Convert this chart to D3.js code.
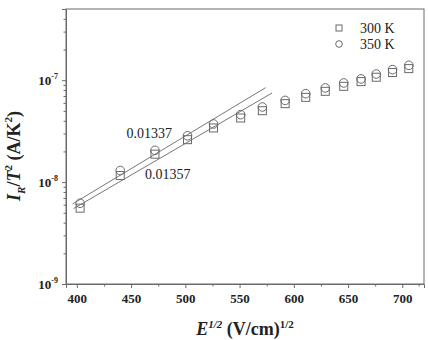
<!DOCTYPE html>
<html>
<head>
<meta charset="utf-8">
<script src="https://cdn.jsdelivr.net/npm/d3@7"></script>
<style>
  body { margin: 0; background: #fff; }
  svg text { font-family: "Liberation Serif", "Times New Roman", serif; fill: #222; }
</style>
</head>
<body>
<div id="chart"></div>
<script>
// Data
const sqrtE = [403, 440, 472, 502, 526, 551, 571, 592, 611, 629, 646, 662, 676, 691, 706];
const series300K = [5.55e-9, 1.16e-8, 1.88e-8, 2.61e-8, 3.40e-8, 4.26e-8, 5.02e-8, 5.89e-8, 6.79e-8, 7.78e-8, 8.71e-8, 9.69e-8, 1.07e-7, 1.19e-7, 1.30e-7];
const series350K = [6.2e-9, 1.30e-8, 2.05e-8, 2.85e-8, 3.72e-8, 4.59e-8, 5.46e-8, 6.34e-8, 7.38e-8, 8.40e-8, 9.40e-8, 1.03e-7, 1.15e-7, 1.27e-7, 1.40e-7];

// Linear fits (endpoints)
const fitX350 = [396, 574];
const fitY350 = [6.1e-9, 8.45e-8];
const fitX300 = [397, 580];
const fitY300 = [5.5e-9, 7.5e-8];
const slopeLabels = ['0.01337', '0.01357'];

const xTicks = [400, 450, 500, 550, 600, 650, 700];
const xMinor = [425, 475, 525, 575, 625, 675, 715];
const yTicks = [1e-9, 1e-8, 1e-7];
const yExp = ['-9', '-8', '-7'];
const legendLabels = ['300 K', '350 K'];

const width = 428, height = 340;
const margin = {top: 9, right: 4, bottom: 56, left: 66};
const innerW = width - margin.left - margin.right;
const innerH = height - margin.top - margin.bottom;
const grey = '#6a6a6a';

const svg = d3.select('#chart').append('svg')
    .attr('width', width)
    .attr('height', height);

const g = svg.append('g')
    .attr('transform', `translate(${margin.left},${margin.top})`);

const x = d3.scaleLinear().domain([390, 720]).range([0, innerW]);
const y = d3.scaleLog().domain([1e-9, 5e-7]).range([innerH, 0]);

// Minor y ticks
const yMinor = [];
[1e-9, 1e-8, 1e-7].forEach(d => {
    for (let k = 2; k <= 9; k++) {
        const v = d * k;
        if (v <= 5e-7) yMinor.push(v);
    }
});

// Axes
const xAxis = g.append('g')
    .attr('transform', `translate(0,${innerH})`)
    .call(d3.axisBottom(x).tickValues(xTicks).tickSize(4).tickPadding(6).tickFormat(d3.format('d')));
g.append('g')
    .attr('transform', `translate(0,${innerH})`)
    .call(d3.axisBottom(x).tickValues(xMinor).tickSize(2.5).tickFormat(''))
    .call(s => s.select('.domain').remove());

xAxis.selectAll('text')
    .style('font-size', '13px')
    .style('font-weight', 'bold')
    .attr('fill', '#222');

const yAxis = g.append('g')
    .call(d3.axisLeft(y).tickValues(yTicks).tickSize(4).tickFormat(''));
g.append('g')
    .call(d3.axisLeft(y).tickValues(yMinor).tickSize(2.5).tickFormat(''))
    .call(s => s.select('.domain').remove());

// Y tick labels with superscripts
const yLab = g.append('g').selectAll('text')
    .data(yTicks)
    .join('text')
    .attr('x', -8)
    .attr('y', d => y(d) + 5)
    .attr('text-anchor', 'end')
    .style('font-size', '13px')
    .style('font-weight', 'bold');
yLab.append('tspan').text('10');
yLab.append('tspan')
    .attr('dy', -6)
    .style('font-size', '8px')
    .text((d, i) => yExp[i]);

g.selectAll('.domain, .tick line').attr('stroke', grey);

// Frame
g.append('rect')
    .attr('width', innerW)
    .attr('height', innerH)
    .attr('fill', 'none')
    .attr('stroke', grey)
    .attr('stroke-width', 1);

// Fit lines
const line = d3.line().x(d => x(d[0])).y(d => y(d[1]));
[[fitX350, fitY350], [fitX300, fitY300]].forEach(([fx, fy]) => {
    g.append('path')
        .datum(fx.map((v, i) => [v, fy[i]]))
        .attr('d', line)
        .attr('fill', 'none')
        .attr('stroke', '#777')
        .attr('stroke-width', 1);
});

// Markers: squares (300 K)
const sq = 8;
g.selectAll('.sq')
    .data(sqrtE.map((v, i) => [v, series300K[i]]))
    .join('rect')
    .attr('class', 'sq')
    .attr('x', d => x(d[0]) - sq / 2)
    .attr('y', d => y(d[1]) - sq / 2)
    .attr('width', sq)
    .attr('height', sq)
    .attr('fill', 'none')
    .attr('stroke', grey)
    .attr('stroke-width', 1);

// Markers: circles (350 K)
g.selectAll('.ci')
    .data(sqrtE.map((v, i) => [v, series350K[i]]))
    .join('circle')
    .attr('class', 'ci')
    .attr('cx', d => x(d[0]))
    .attr('cy', d => y(d[1]))
    .attr('r', 4.3)
    .attr('fill', 'none')
    .attr('stroke', grey)
    .attr('stroke-width', 1);

// Slope annotations
g.append('text')
    .attr('x', 126.5 - margin.left)
    .attr('y', 138 - margin.top)
    .style('font-size', '14px')
    .text(slopeLabels[0]);
g.append('text')
    .attr('x', 145 - margin.left)
    .attr('y', 179 - margin.top)
    .style('font-size', '14px')
    .text(slopeLabels[1]);

// Legend
const leg = svg.append('g').attr('transform', 'translate(339,28)');
leg.append('rect')
    .attr('x', -3).attr('y', -3).attr('width', 6).attr('height', 6)
    .attr('fill', 'none').attr('stroke', grey);
leg.append('circle')
    .attr('cx', 0).attr('cy', 16).attr('r', 3.3)
    .attr('fill', 'none').attr('stroke', grey);
leg.selectAll('text')
    .data(legendLabels)
    .join('text')
    .attr('x', 21)
    .attr('y', (d, i) => 4.5 + i * 16)
    .style('font-size', '14px')
    .text(d => d);

// X axis title
const xt = svg.append('text')
    .attr('x', 245)
    .attr('y', 335)
    .attr('text-anchor', 'middle')
    .style('font-size', '18px')
    .style('font-weight', 'bold');
xt.append('tspan').style('font-style', 'italic').text('E');
xt.append('tspan').attr('dy', -7).style('font-size', '11px').style('font-style', 'italic').text('1/2');
xt.append('tspan').attr('dy', 7).text(' (V/cm)');
xt.append('tspan').attr('dy', -7).style('font-size', '11px').text('1/2');

// Y axis title
const yt = svg.append('text')
    .attr('transform', 'translate(20,156) rotate(-90)')
    .attr('text-anchor', 'middle')
    .style('font-size', '18px')
    .style('font-weight', 'bold');
yt.append('tspan').style('font-style', 'italic').text('I');
yt.append('tspan').attr('dy', 5).style('font-size', '11px').style('font-style', 'italic').text('R');
yt.append('tspan').attr('dy', -5).text('/');
yt.append('tspan').style('font-style', 'italic').text('T');
yt.append('tspan').attr('dy', -8).style('font-size', '11px').text('2');
yt.append('tspan').attr('dy', 8).text(' (A/K');
yt.append('tspan').attr('dy', -8).style('font-size', '11px').text('2');
yt.append('tspan').attr('dy', 8).text(')');
</script>
</body>
</html>
